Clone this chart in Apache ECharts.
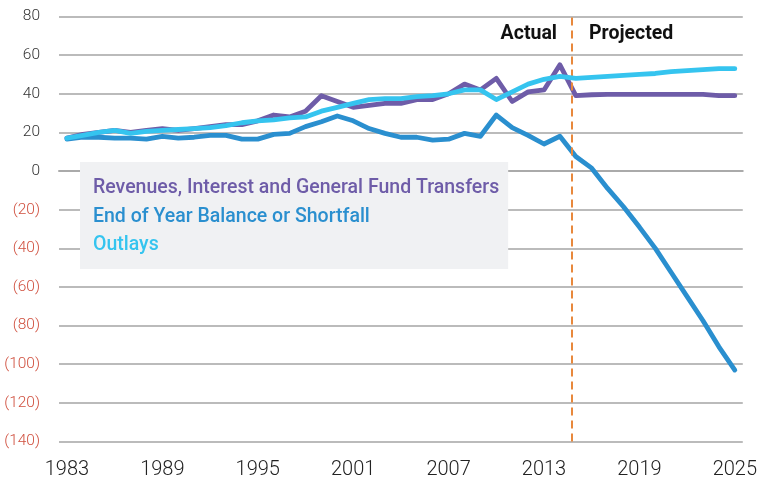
<!DOCTYPE html>
<html><head><meta charset="utf-8">
<script src="https://cdn.jsdelivr.net/npm/echarts@6/dist/echarts.min.js"></script>
<style>html,body{margin:0;padding:0;background:#fff}#c{width:760px;height:487px}</style>
</head><body><div id="c"></div>
<script>
const years = [1983,1984,1985,1986,1987,1988,1989,1990,1991,1992,1993,1994,1995,1996,1997,1998,1999,2000,2001,2002,2003,2004,2005,2006,2007,2008,2009,2010,2011,2012,2013,2014,2015,2016,2017,2018,2019,2020,2021,2022,2023,2024,2025];
const revenues = [17,19,20,21,20,21,22,21,22,23,24,24,26,29,28,31,39,36,33,34,35,35,37,37,40,45,42,48,36,41,42,55,39,39.5,39.7,39.7,39.7,39.7,39.7,39.7,39.7,39,39];
const balance = [16.5,17.5,17.5,17,17,16.5,18,17,17.5,18.5,18.5,16.5,16.5,19,19.5,23,25.5,28.5,26,22,19.5,17.5,17.5,16,16.5,19.5,18,29,22.5,18.5,14,18,7.5,1.5,-9,-18.5,-29,-40,-52.5,-65,-77.5,-91,-103];
const outlays = [17,18.5,20,21,19.5,20.5,21,21.5,22,22.5,23.5,25,26,26.5,27.5,28,31,33,35,37,37.5,37.5,38.5,39,40,42,42,37,41,45,47.5,49,48,48.5,49,49.5,50,50.5,51.5,52,52.5,53,53];
const seriesNames = ['Revenues, Interest and General Fund Transfers','End of Year Balance or Shortfall','Outlays'];
const colors = ['#6e5ca8','#2a8fcf','#35c4ef'];
const projectionStart = 2014.75;
const phaseLabels = ['Actual','Projected'];

const chart = echarts.init(document.getElementById('c'), null, {renderer:'canvas'});
const lineSeries = [revenues, balance, outlays].map((d,i)=>({
  name: seriesNames[i], type:'line', data:d, symbol:'none', smooth:false,
  lineStyle:{color:colors[i], width:4.8, cap:'round', join:'round'},
  itemStyle:{color:colors[i]}, z: 3+i
}));
chart.setOption({
  animation:false,
  textStyle:{fontFamily:'Roboto'},
  grid:{left:59, width:685, top:16.5, height:425, containLabel:false},
  xAxis:[{
    type:'category', data:years, boundaryGap:true,
    axisLine:{lineStyle:{color:'#aaaaaa', width:2}},
    axisTick:{alignWithLabel:true, interval:5, length:17, lineStyle:{color:'#b0b0b0', width:1.5}},
    axisLabel:{interval:5, margin:18, fontSize:20, color:'#222', fontWeight:300, fontFamily:'Roboto'},
    splitLine:{show:false}
  },{
    type:'value', min:1982.5, max:2025.5, show:false
  }],
  yAxis:{
    type:'value', min:-140, max:80, interval:20,
    axisLine:{show:false}, axisTick:{show:false},
    axisLabel:{margin:19, fontSize:15.5, fontWeight:300, fontFamily:'Roboto',
      formatter:v=> v<0 ? '('+Math.abs(v)+')' : String(v),
      color:v=> (Number(v)<0 ? '#d0503f' : '#333')},
    splitLine:{lineStyle:{color:'#a5a5a5', width:1.5}}
  },
  legend:{
    orient:'vertical', left:80, top:162, icon:'none', itemWidth:0, itemHeight:19, itemGap:8.5,
    padding:[16.5,9,13.5,8], backgroundColor:'#f0f1f3', selectedMode:false,
    textStyle:{fontSize:19.5, fontWeight:500, fontFamily:'Roboto'},
    data: seriesNames.map((n,i)=>({name:n, textStyle:{color:colors[i]}}))
  },
  series:[...lineSeries, {
    type:'line', xAxisIndex:1, data:[], silent:true,
    markLine:{symbol:'none', silent:true, label:{show:false},
      lineStyle:{color:'#e8883c', type:[8,5], width:2},
      data:[{xAxis:projectionStart}]}
  }],
  graphic:[
    {type:'text', right:760-557, top:24, style:{text:phaseLabels[0], font:'bold 19.5px Roboto', fill:'#111'}},
    {type:'text', left:589, top:24, style:{text:phaseLabels[1], font:'bold 19.5px Roboto', fill:'#111'}}
  ]
});
</script></body></html>
